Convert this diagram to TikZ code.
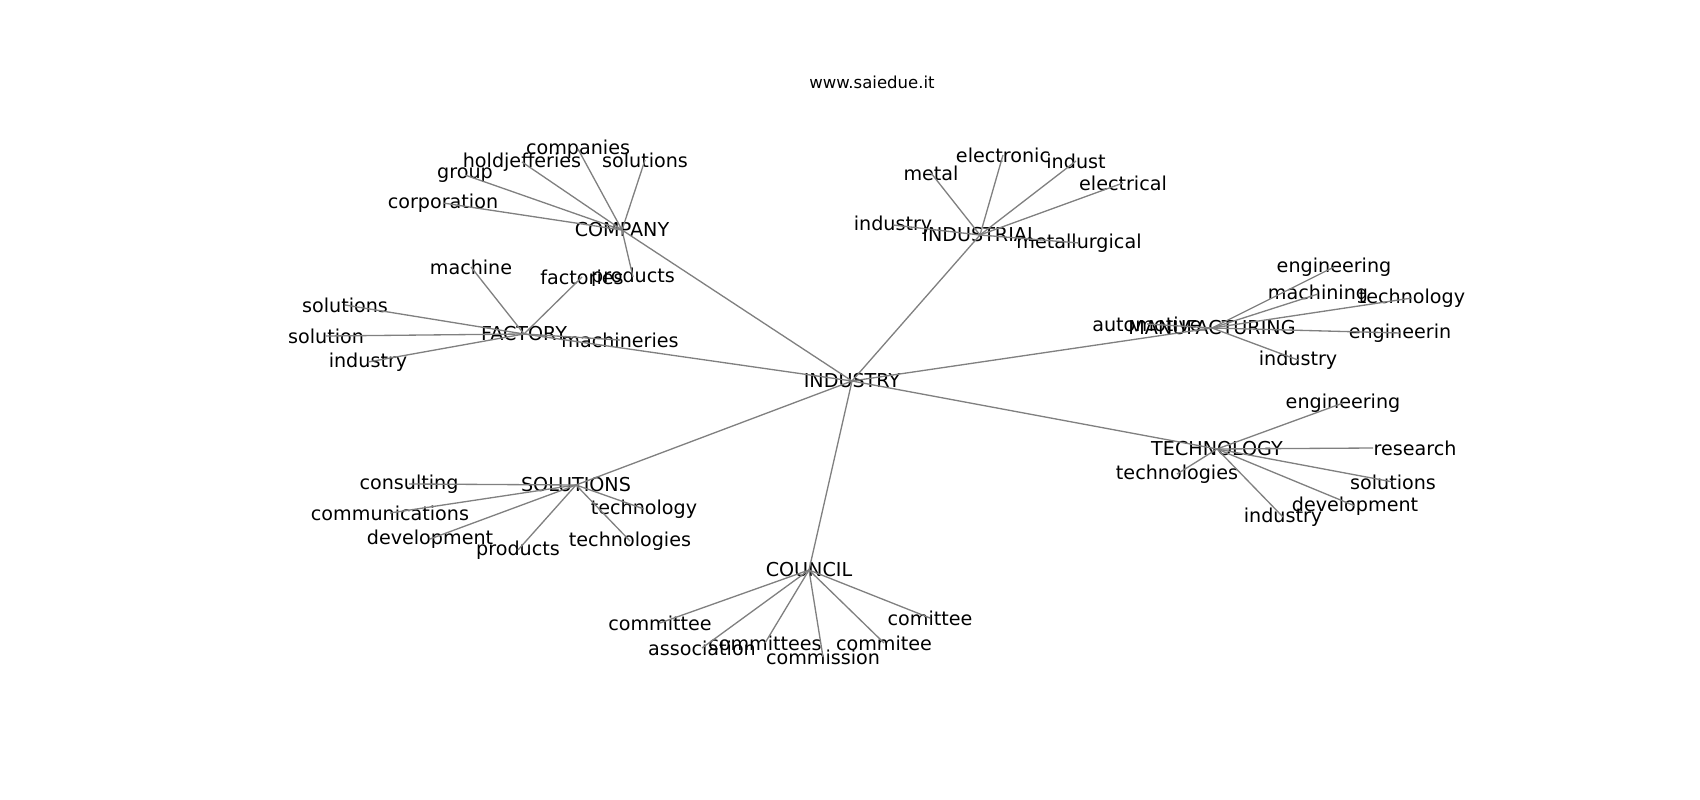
\documentclass[tikz,border=0pt]{standalone}
\usepackage{fontspec}
\setmainfont{DejaVu Sans}
\usepackage{tikz}

\begin{document}
\begin{tikzpicture}[x=0.02cm,y=-0.02cm,
  lbl/.style={inner sep=0pt,font=\fontsize{10.9}{13}\selectfont},
  edge/.style={draw=gray,line width=0.75pt}]
\useasboundingbox (0,0) rectangle (1700,800);
\node[inner sep=0pt,font=\fontsize{9.4}{11}\selectfont] (title) at (872,82) {www.saiedue.it};
% hubs
\node[lbl] (industry) at (852,381) {INDUSTRY};
\node[lbl] (company) at (622,230) {COMPANY};
\node[lbl] (factory) at (524,334) {FACTORY};
\node[lbl] (industrial) at (980,235) {INDUSTRIAL};
\node[lbl] (manufacturing) at (1212,328) {MANUFACTURING};
\node[lbl] (technology) at (1217,449) {TECHNOLOGY};
\node[lbl] (solutions) at (576,485) {SOLUTIONS};
\node[lbl] (council) at (809,570) {COUNCIL};
% company
\node[lbl] (comcompanies) at (578,149) {companies};
\node[lbl] (comholdjefferies) at (522,162) {holdjefferies};
\node[lbl] (comsolutions) at (645,160) {solutions};
\node[lbl] (comgroup) at (465,175) {group};
\node[lbl] (comcorporation) at (443,203) {corporation};
\node[lbl] (comproducts) at (633,277) {products};
% factory
\node[lbl] (facmachine) at (471,267) {machine};
\node[lbl] (facfactories) at (582,277) {factories};
\node[lbl] (facsolutions) at (345,305) {solutions};
\node[lbl] (facsolution) at (326,336) {solution};
\node[lbl] (facindustry) at (368,362) {industry};
\node[lbl] (facmachineries) at (620,340) {machineries};
% industrial
\node[lbl] (ialmetal) at (931,173) {metal};
\node[lbl] (ialelectronic) at (1003,155) {electronic};
\node[lbl] (ialindust) at (1076,161) {indust};
\node[lbl] (ialelectrical) at (1123,183) {electrical};
\node[lbl] (ialindustry) at (893,225) {industry};
\node[lbl] (ialmetallurgical) at (1079,243) {metallurgical};
% manufacturing
\node[lbl] (manautomotive) at (1147,324) {automotive};
\node[lbl] (manengineering) at (1334,267) {engineering};
\node[lbl] (manmachining) at (1318,294) {machining};
\node[lbl] (mantechnology) at (1412,298) {technology};
\node[lbl] (manengineerin) at (1400,333) {engineerin};
\node[lbl] (manindustry) at (1298,360) {industry};
% technology
\node[lbl] (tecengineering) at (1343,403) {engineering};
\node[lbl] (tecresearch) at (1415,448) {research};
\node[lbl] (tectechnologies) at (1177,474) {technologies};
\node[lbl] (tecsolutions) at (1393,482) {solutions};
\node[lbl] (tecdevelopment) at (1355,506) {development};
\node[lbl] (tecindustry) at (1283,517) {industry};
% solutions
\node[lbl] (solconsulting) at (409,484) {consulting};
\node[lbl] (solcommunications) at (390,513) {communications};
\node[lbl] (soldevelopment) at (430,539) {development};
\node[lbl] (solproducts) at (518,550) {products};
\node[lbl] (soltechnology) at (644,509) {technology};
\node[lbl] (soltechnologies) at (630,541) {technologies};
% council
\node[lbl] (coucommittee) at (660,623) {committee};
\node[lbl] (couassociation) at (702,648) {association};
\node[lbl] (coucommittees) at (765,643) {committees};
\node[lbl] (coucommission) at (823,657) {commission};
\node[lbl] (coucommitee) at (884,643) {commitee};
\node[lbl] (coucomittee) at (930,618) {comittee};
% edges
\draw[edge] (industry.center)--(company.center);
\draw[edge] (industry.center)--(factory.center);
\draw[edge] (industry.center)--(industrial.center);
\draw[edge] (industry.center)--(manufacturing.center);
\draw[edge] (industry.center)--(technology.center);
\draw[edge] (industry.center)--(solutions.center);
\draw[edge] (industry.center)--(council.center);
\draw[edge] (company.center)--(comcompanies.center);
\draw[edge] (company.center)--(comholdjefferies.center);
\draw[edge] (company.center)--(comsolutions.center);
\draw[edge] (company.center)--(comgroup.center);
\draw[edge] (company.center)--(comcorporation.center);
\draw[edge] (company.center)--(comproducts.center);
\draw[edge] (factory.center)--(facmachine.center);
\draw[edge] (factory.center)--(facfactories.center);
\draw[edge] (factory.center)--(facsolutions.center);
\draw[edge] (factory.center)--(facsolution.center);
\draw[edge] (factory.center)--(facindustry.center);
\draw[edge] (factory.center)--(facmachineries.center);
\draw[edge] (industrial.center)--(ialmetal.center);
\draw[edge] (industrial.center)--(ialelectronic.center);
\draw[edge] (industrial.center)--(ialindust.center);
\draw[edge] (industrial.center)--(ialelectrical.center);
\draw[edge] (industrial.center)--(ialindustry.center);
\draw[edge] (industrial.center)--(ialmetallurgical.center);
\draw[edge] (manufacturing.center)--(manautomotive.center);
\draw[edge] (manufacturing.center)--(manengineering.center);
\draw[edge] (manufacturing.center)--(manmachining.center);
\draw[edge] (manufacturing.center)--(mantechnology.center);
\draw[edge] (manufacturing.center)--(manengineerin.center);
\draw[edge] (manufacturing.center)--(manindustry.center);
\draw[edge] (technology.center)--(tecengineering.center);
\draw[edge] (technology.center)--(tecresearch.west);
\draw[edge] (technology.center)--(tectechnologies.center);
\draw[edge] (technology.center)--(tecsolutions.center);
\draw[edge] (technology.center)--(tecdevelopment.center);
\draw[edge] (technology.center)--(tecindustry.center);
\draw[edge] (solutions.center)--(solconsulting.center);
\draw[edge] (solutions.center)--(solcommunications.center);
\draw[edge] (solutions.center)--(soldevelopment.center);
\draw[edge] (solutions.center)--(solproducts.center);
\draw[edge] (solutions.center)--(soltechnology.center);
\draw[edge] (solutions.center)--(soltechnologies.center);
\draw[edge] (council.center)--(coucommittee.center);
\draw[edge] (council.center)--(couassociation.center);
\draw[edge] (council.center)--(coucommittees.center);
\draw[edge] (council.center)--(coucommission.center);
\draw[edge] (council.center)--(coucommitee.center);
\draw[edge] (council.center)--(coucomittee.center);
\end{tikzpicture}
\end{document}
